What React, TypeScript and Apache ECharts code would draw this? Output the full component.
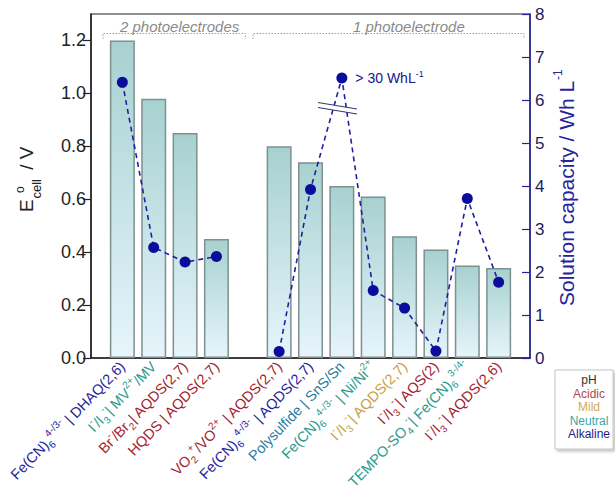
import React, { useEffect, useRef } from "react";
import * as echarts from "echarts";

const FONT = "'Liberation Sans', Arial, Helvetica, sans-serif";

// x categories (blank slots = spacing), markup: _{sub} ^{sup}
const categories = [
  "",
  "Fe(CN)_{6}^{4-/3-} | DHAQ(2,6)",
  "I^{-}/I_{3}^{-}| MV^{2+}/MV",
  "Br^{-}/Br_{2}| AQDS(2,7)",
  "HQDS | AQDS(2,7)",
  "",
  "VO_{2}^{+}/VO^{2+} | AQDS(2,7)",
  "Fe(CN)_{6}^{4-/3-} | AQDS(2,7)",
  "Polysulfide | SnS/Sn",
  "Fe(CN)_{6}^{4-/3-} | Ni/Ni^{2+}",
  "I^{-}/I_{3}^{-}| AQDS(2,7)",
  "I^{-}/I_{3}^{-}| AQS(2)",
  "TEMPO-SO_{4}^{-}| Fe(CN)_{6}^{3-/4-}",
  "I^{-}/I_{3}^{-}| AQDS(2,6)",
  "",
];
const phClass = ["", "alk", "neu", "acid", "acid", "", "acid", "alk", "poly", "neu", "mild", "acid", "neu", "acid", ""];
const ecell = [null, 1.2, 0.98, 0.85, 0.45, null, 0.8, 0.74, 0.65, 0.61, 0.46, 0.41, 0.35, 0.34, null];
const capacity = [null, 6.41, 2.57, 2.23, 2.36, null, 0.15, 3.92, 6.51, 1.57, 1.16, 0.16, 3.71, 1.76, null];
const ecellTicks = [0, 0.2, 0.4, 0.6, 0.8, 1.0, 1.2];
const legendItems = ["pH", "Acidic", "Mild", "Neutral", "Alkaline"];
const legendColors = ["#333333", "#b04848", "#d2a85a", "#3aa6a6", "#1c1c8c"];
const highLabelIndex = 8;

const phColors: Record<string, string> = {
  alk: "#25259c",
  neu: "#2a9a8b",
  acid: "#a3232e",
  mild: "#c8a046",
  poly: "#2b7d9e",
};

function toRich(s: string, cls: string) {
  if (!s) return "";
  const parts = s.split(/(_\{[^}]*\}|\^\{[^}]*\})/).filter((p) => p);
  return parts
    .map((p) => {
      if (p.startsWith("_{")) return `{${cls}B|${p.slice(2, -1)}}`;
      if (p.startsWith("^{")) return `{${cls}P|${p.slice(2, -1)}}`;
      return `{${cls}N|${p}}`;
    })
    .join("");
}

export default function App() {
  const ref = useRef<HTMLDivElement>(null);
  useEffect(() => {
    const chart = echarts.init(ref.current!, null, { renderer: "svg" });
    const rich: any = {};
    Object.entries(phColors).forEach(([k, c]) => {
      rich[k + "N"] = { color: c, fontSize: 14.5, lineHeight: 21, verticalAlign: "middle", fontFamily: FONT };
      rich[k + "B"] = { color: c, fontSize: 10, lineHeight: 10, verticalAlign: "bottom", fontFamily: FONT };
      rich[k + "P"] = { color: c, fontSize: 10, lineHeight: 10, verticalAlign: "top", fontFamily: FONT };
    });

    const lineData = capacity.map((v, i) => {
      if (v === null) return "-";
      if (i === highLabelIndex) {
        return {
          value: v,
          label: {
            show: true,
            position: "right",
            distance: 8,
            formatter: "{a|> 30 WhL}{s|-1}",
            rich: {
              a: { fontSize: 14, color: "#16168c", lineHeight: 18, verticalAlign: "middle", fontFamily: FONT },
              s: { fontSize: 9, color: "#16168c", lineHeight: 9, verticalAlign: "top", fontFamily: FONT },
            },
          },
        };
      }
      return v;
    });

    const navy = "#24249c";
    const graphic: any[] = [
      // left axis title
      {
        type: "group",
        x: 26.5,
        y: 212,
        rotation: Math.PI / 2,
        children: [
          { type: "text", x: 0, y: 0, style: { text: "E", fontSize: 19, fill: "#222", fontFamily: FONT, align: "left", verticalAlign: "middle" } },
          { type: "text", x: 13.5, y: 10, style: { text: "cell", fontSize: 13, fill: "#222", fontFamily: FONT, align: "left", verticalAlign: "middle" } },
          { type: "text", x: 19, y: -7, style: { text: "o", fontSize: 12, fill: "#222", fontFamily: FONT, align: "left", verticalAlign: "middle" } },
          { type: "text", x: 37, y: 0, style: { text: " / V", fontSize: 19, fill: "#222", fontFamily: FONT, align: "left", verticalAlign: "middle" } },
        ],
      },
      // right axis title
      {
        type: "group",
        x: 566,
        y: 306,
        rotation: Math.PI / 2,
        children: [
          { type: "text", x: 0, y: 0, style: { text: "Solution capacity / Wh L", fontSize: 21, fill: navy, fontFamily: FONT, align: "left", verticalAlign: "middle" } },
          { type: "text", x: 226, y: -8, style: { text: "-1", fontSize: 12, fill: navy, fontFamily: FONT, align: "left", verticalAlign: "middle" } },
        ],
      },
      // top brackets
      {
        type: "polyline",
        shape: { points: [[103, 39], [103, 33.5], [245.5, 33.5], [245.5, 39]] },
        style: { stroke: "#a0a0a0", lineWidth: 1, lineDash: [1.5, 1.5], fill: null },
        z: 50,
      },
      {
        type: "polyline",
        shape: { points: [[253, 39], [253, 33.5], [524, 33.5], [524, 39]] },
        style: { stroke: "#a0a0a0", lineWidth: 1, lineDash: [1.5, 1.5], fill: null },
        z: 50,
      },
      { type: "text", x: 120, y: 26.3, style: { text: "2 photoelectrodes", fontSize: 15, fontStyle: "italic", fill: "#8a8a8a", fontFamily: FONT, align: "left", verticalAlign: "middle" }, z: 50 },
      { type: "text", x: 353, y: 26.3, style: { text: "1 photoelectrode", fontSize: 15, fontStyle: "italic", fill: "#8a8a8a", fontFamily: FONT, align: "left", verticalAlign: "middle" }, z: 50 },
      // axis break marks
      {
        type: "polygon",
        shape: { points: [[318, 102.5], [357, 109], [357, 114], [318, 107.5]] },
        style: { fill: "#ffffff", stroke: null },
        z: 50,
      },
      { type: "line", shape: { x1: 318, y1: 102.5, x2: 357, y2: 109 }, style: { stroke: "#33336a", lineWidth: 1 }, z: 51 },
      { type: "line", shape: { x1: 318, y1: 107.5, x2: 357, y2: 114 }, style: { stroke: "#33336a", lineWidth: 1 }, z: 51 },
      // pH legend box
      {
        type: "rect",
        shape: { x: 555, y: 370, width: 58, height: 79 },
        style: { fill: "#ffffff", stroke: "#c4c4c4", lineWidth: 1, shadowBlur: 3, shadowOffsetX: 2, shadowOffsetY: 2, shadowColor: "rgba(0,0,0,0.25)" },
        z: 50,
      },
      ...legendItems.map((t, i) => ({
        type: "text",
        x: 589,
        y: [380, 393.6, 407.2, 420.8, 434.4][i],
        style: { text: t, fontSize: 12, lineHeight: 12.5, fill: legendColors[i], fontFamily: FONT, align: "center", verticalAlign: "middle" },
        z: 51,
      })),
    ];

    chart.setOption({
      animation: false,
      textStyle: { fontFamily: FONT },
      grid: { left: 91, right: 85, top: 14, bottom: 139, show: true, borderColor: "#222", borderWidth: 1.2, backgroundColor: "transparent" },
      xAxis: {
        type: "category",
        data: categories,
        boundaryGap: false,
        axisLine: { lineStyle: { color: "#222", width: 1.5 } },
        axisTick: { show: false },
        splitLine: { show: false },
        axisLabel: {
          interval: 0,
          rotate: 46,
          margin: 6,
          formatter: (v: string, i: number) => toRich(v, phClass[i]),
          rich,
        },
      },
      yAxis: [
        {
          type: "value",
          min: 0,
          max: 1.3,
          interval: 0.2,
          position: "left",
          axisLine: { show: true, lineStyle: { color: "#222", width: 1.5 } },
          axisTick: { show: true, length: 8, customValues: ecellTicks, lineStyle: { color: "#222", width: 1.2 } },
          axisLabel: {
            customValues: ecellTicks,
            formatter: (v: number) => (v > 1.25 ? "" : v.toFixed(1)),
            fontSize: 18,
            color: "#222",
            margin: 5,
          },
          splitLine: { show: false },
        },
        {
          type: "value",
          min: 0,
          max: 8,
          interval: 1,
          position: "right",
          axisLine: { show: true, lineStyle: { color: navy, width: 1.5 } },
          axisTick: { show: true, inside: true, length: 8, lineStyle: { color: navy, width: 1.2 } },
          axisLabel: { fontSize: 17, color: "#1c1c5c", margin: 5 },
          splitLine: { show: false },
        },
      ],
      series: [
        {
          type: "bar",
          yAxisIndex: 0,
          data: ecell.map((v) => (v === null ? "-" : v)),
          barWidth: 25,
          itemStyle: {
            color: new echarts.graphic.LinearGradient(0, 0, 0, 1, [
              { offset: 0, color: "#a7d1d0" },
              { offset: 1, color: "#e6f5fb" },
            ]),
            borderColor: "#7e9090",
            borderWidth: 1.5,
          },
          z: 2,
        },
        {
          type: "line",
          yAxisIndex: 1,
          data: lineData,
          symbol: "circle",
          symbolSize: 11,
          connectNulls: false,
          itemStyle: { color: "#0c0c9c" },
          lineStyle: { color: "#1f1fa0", width: 1.6, type: [5, 4] },
          z: 3,
        },
      ],
      graphic,
    });
    return () => chart.dispose();
  }, []);
  return <div ref={ref} style={{ position: "absolute", left: 0, top: 0, width: 615, height: 497 }} />;
}
